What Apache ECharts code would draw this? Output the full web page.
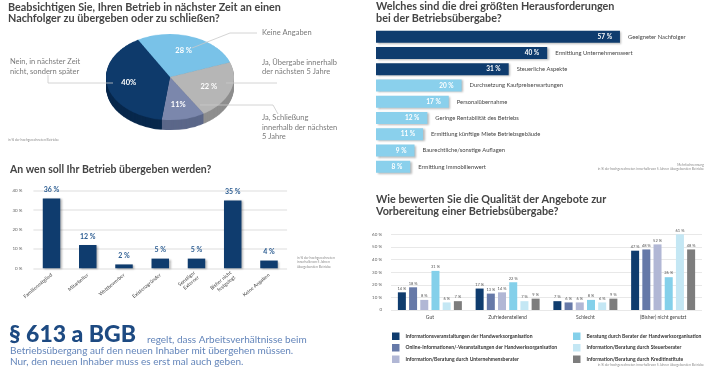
<!DOCTYPE html>
<html><head><meta charset="utf-8">
<script src="https://cdn.jsdelivr.net/npm/echarts@6/dist/echarts.min.js"></script>
<style>
html,body{margin:0;padding:0;background:#fff;}
#pie3d{position:absolute;left:100px;top:30px;width:140px;height:160px;transform:scaleY(0.672);transform-origin:0 0;}
#main{position:absolute;left:0;top:0;width:708px;height:378px;}
</style></head><body>
<div id="pie3d"></div><div id="main"></div>
<script>
// ---------- DATA ----------
const pieNames = ['Keine Angaben', 'Ja, Übergabe innerhalb\nder nächsten 5 Jahre', 'Ja, Schließung\ninnerhalb der nächsten\n5 Jahre', 'Nein, in nächster Zeit\nnicht, sondern später'];
const pieValues = [28, 22, 11, 40];
const pieLabels = ['28 %', '22 %', '11%', '40%'];

const challengeNames = ['Geeigneter Nachfolger', 'Ermittlung Unternehmenswert', 'Steuerliche Aspekte', 'Durchsetzung Kaufpreiserwartungen', 'Personalübernahme', 'Geringe Rentabilität des Betriebs', 'Ermittlung künftige Miete Betriebsgebäude', 'Baurechtliche/sonstige Auflagen', 'Ermittlung Immobilienwert'];
const challengeValues = [57, 40, 31, 20, 17, 12, 11, 9, 8];

const successorCats = ['Familienmitglied', 'Mitarbeiter', 'Wettbewerber', 'Existenzgründer', 'Sonstiger\nExterner', 'Bisher nicht\nfestgelegt', 'Keine Angaben'];
const successorValues = [36, 12, 2, 5, 5, 35, 4];
const successorTicks = [0, 10, 20, 30, 40];

const qualityCats = ['Gut', 'Zufriedenstellend', 'Schlecht', '(Bisher) nicht genutzt'];
const qualityNames = ['Informationsveranstaltungen der Handwerksorganisation', 'Online-Informationen/-Veranstaltungen der Handwerksorganisation', 'Information/Beratung durch Unternehmensberater', 'Beratung durch Berater der Handwerksorganisation', 'Information/Beratung durch Steuerberater', 'Information/Beratung durch Kreditinstitute'];
const qInfoVeranstaltungen = [14, 17, 7, 47];
const qOnline = [18, 13, 6, 48];
const qUnternehmensberater = [8, 14, 6, 52];
const qBeraterHWO = [31, 22, 8, 26];
const qSteuerberater = [6, 7, 6, 61];
const qKreditinstitute = [7, 9, 9, 48];
const qualityTicks = [0, 10, 20, 30, 40, 50, 60];

// ---------- STYLE ----------
const FONT = 'Lato, "Open Sans", sans-serif';
const NAVY = '#0f3c6e';
const LIGHT = '#8ad0ec';
const pieTop = ['#79c2e8', '#b6b6b6', '#7b87ac', '#0e3a6b'];
const pieSide = ['#5aa1c9', '#8e8e8e', '#5b6789', '#08284c'];
const qColors = ['#0f3c6e', '#6679a8', '#b1b7d5', '#84d0ea', '#c4e7f4', '#7d7d7d'];

// ---------- 3D PIE (scaled container) ----------
const pieChart = echarts.init(document.getElementById('pie3d'));
const pieSeries = [];
const DEPTH = 15;
function pieData(colors) {
  return pieValues.map((v, i) => ({ value: v, name: pieNames[i], itemStyle: { color: colors[i] } }));
}
for (let k = DEPTH; k >= 1; k--) {
  pieSeries.push({ type: 'pie', center: [70, 70 + k], radius: 64, startAngle: 120, clockwise: true, silent: true,
    avoidLabelOverlap: false, label: { show: false }, labelLine: { show: false }, data: pieData(pieSide) });
}
pieSeries.push({ type: 'pie', center: [70, 70], radius: 64, startAngle: 120, clockwise: true, silent: true,
  avoidLabelOverlap: false, label: { show: false }, labelLine: { show: false }, data: pieData(pieTop) });
pieChart.setOption({ animation: false, series: pieSeries });

// ---------- MAIN ----------
const PCX = 169.5, PCY = 77, PRX = 64, PRY = 43;
const pieTotal = pieValues.reduce((a, b) => a + b, 0);
function pieMid(i) {
  let s = 120;
  for (let j = 0; j < i; j++) s -= pieValues[j] / pieTotal * 360;
  return (s - pieValues[i] / pieTotal * 180) * Math.PI / 180;
}
const nameAnchor = [[262, 33], [262, 67], [262, 127.5], [10, 66.5]];

function txt(x, y, text, size, color, weight, align, va, lh) {
  return { type: 'text', x: x, y: y, silent: true, z: 10,
    style: { text: text, fontSize: size, fontFamily: FONT, fontWeight: weight || 'normal', fill: color,
      align: align || 'left', verticalAlign: va || 'middle', lineHeight: lh } };
}
function line(points) {
  return { type: 'polyline', silent: true, shape: { points: points }, style: { stroke: '#c9c9c9', lineWidth: 0.8, fill: null } };
}
const TITLE = '#444444';
const TS = 10.8;
const graphics = [
  txt(8, 7.5, 'Beabsichtigen Sie, Ihren Betrieb in nächster Zeit an einen', TS, TITLE, 'bold'),
  txt(8, 18.8, 'Nachfolger zu übergeben oder zu schließen?', TS, TITLE, 'bold'),
  txt(376, 7, 'Welches sind die drei größten Herausforderungen', TS, TITLE, 'bold'),
  txt(376, 18.5, 'bei der Betriebsübergabe?', TS, TITLE, 'bold'),
  txt(10, 170, 'An wen soll Ihr Betrieb übergeben werden?', 10.5, TITLE, 'bold'),
  txt(376, 200, 'Wie bewerten Sie die Qualität der Angebote zur', TS, TITLE, 'bold'),
  txt(376, 212, 'Vorbereitung einer Betriebsübergabe?', TS, TITLE, 'bold'),
  txt(8, 140, 'in % der hochgerechneten Betriebe', 3.3, '#888'),
  txt(704, 165, 'Mehrfachnennung', 3.3, '#888', 'normal', 'right'),
  txt(704, 169, 'in % der hochgerechneten innerhalb von 5 Jahren übergebenden Betriebe', 3.3, '#888', 'normal', 'right'),
  txt(297, 256, 'in % der hochgerechneten\ninnerhalb von 5 Jahren\nübergebenden Betriebe', 3.3, '#888', 'normal', 'left', 'top', 4.2),
  txt(704, 365, 'in % der hochgerechneten innerhalb von 5 Jahren übergebenden Betriebe', 3.3, '#888', 'normal', 'right'),
  txt(9, 335, '§ 613 a BGB', 23, '#1d4a82', 900),
  txt(147, 340, 'regelt, dass Arbeitsverhältnisse beim', 10, '#6385ba'),
  txt(10, 351, 'Betriebsübergang auf den neuen Inhaber mit übergehen müssen.', 10, '#6385ba'),
  txt(10, 362, 'Nur, den neuen Inhaber muss es erst mal auch geben.', 10, '#6385ba'),
  line([[192, 48], [230, 33], [257, 33]]),
  line([[226, 83], [277, 83]]),
  line([[200, 105], [273, 105], [278, 114]]),
  line([[113, 83], [48, 83], [48, 75]])
];

const shadow = { shadowColor: 'rgba(0,0,0,0.28)', shadowBlur: 2, shadowOffsetX: 1.5, shadowOffsetY: 1 };
const qData = [qInfoVeranstaltungen, qOnline, qUnternehmensberater, qBeraterHWO, qSteuerberater, qKreditinstitute];

const option = {
  animation: false,
  textStyle: { fontFamily: FONT },
  graphic: graphics,
  legend: [
    { data: qualityNames.slice(0, 3), orient: 'vertical', left: 392, top: 332.5, itemWidth: 7.5, itemHeight: 7.5, itemGap: 4,
      icon: 'rect', padding: 0, selectedMode: false, textStyle: { fontSize: 5, color: '#333', fontWeight: 'bold', padding: [0, 0, 0, 1] } },
    { data: qualityNames.slice(3), orient: 'vertical', left: 573, top: 332.5, itemWidth: 7.5, itemHeight: 7.5, itemGap: 4,
      icon: 'rect', padding: 0, selectedMode: false, textStyle: { fontSize: 5, color: '#333', fontWeight: 'bold', padding: [0, 0, 0, 1] } }
  ],
  grid: [
    { left: 376, top: 28.6, width: 299.6, height: 146.3, outerBoundsMode: 'none' },
    { left: 33.4, top: 190.7, width: 253.7, height: 77.6, outerBoundsMode: 'none' },
    { left: 391, top: 234.3, width: 311, height: 75.7, outerBoundsMode: 'none' }
  ],
  xAxis: [
    { gridIndex: 0, type: 'value', min: 0, max: 70, show: false },
    { gridIndex: 1, type: 'category', data: successorCats, axisLine: { show: false }, axisTick: { show: false },
      axisLabel: { interval: 0, rotate: 40, fontSize: 5, color: '#444', margin: 6, lineHeight: 6 } },
    { gridIndex: 2, type: 'category', data: qualityCats, axisLine: { show: false }, axisTick: { show: false },
      axisLabel: { interval: 0, fontSize: 5, color: '#444', margin: 5 } }
  ],
  yAxis: [
    { gridIndex: 0, type: 'category', data: challengeNames, inverse: true, show: false },
    { gridIndex: 1, type: 'value', min: successorTicks[0], max: successorTicks[successorTicks.length - 1], interval: successorTicks[1] - successorTicks[0],
      axisLine: { show: false }, axisTick: { show: false },
      axisLabel: { formatter: '{value} %', fontSize: 4.5, color: '#666', margin: 11 },
      splitLine: { lineStyle: { color: '#e8e8e8', width: 1.5 } } },
    { gridIndex: 2, type: 'value', min: qualityTicks[0], max: qualityTicks[qualityTicks.length - 1], interval: qualityTicks[1] - qualityTicks[0],
      axisLine: { show: false }, axisTick: { show: false },
      axisLabel: { formatter: v => v === 0 ? '0' : v + ' %', fontSize: 4.5, color: '#666', margin: 9 },
      splitLine: { lineStyle: { color: '#e8e8e8', width: 1 } } }
  ],
  series: [
    { type: 'pie', center: [PCX, PCY], radius: PRX, startAngle: 120, clockwise: true, silent: true, avoidLabelOverlap: false,
      itemStyle: { color: 'transparent' }, labelLine: { show: false },
      data: pieValues.map((v, i) => ({ value: v, name: pieNames[i] })),
      label: { show: true, position: 'inside', formatter: p => pieLabels[p.dataIndex], color: '#fff', fontWeight: 'bold', fontSize: 7.5 },
      labelLayout: p => {
        const a = pieMid(p.dataIndex);
        return { x: PCX + 0.65 * PRX * Math.cos(a), y: PCY - 0.65 * PRY * Math.sin(a), align: 'center', verticalAlign: 'middle' };
      } },
    { type: 'pie', center: [PCX, PCY], radius: PRX, startAngle: 120, clockwise: true, silent: true, avoidLabelOverlap: false,
      itemStyle: { color: 'transparent' }, labelLine: { show: false },
      data: pieValues.map((v, i) => ({ value: v, name: pieNames[i] })),
      label: { show: true, position: 'outside', formatter: '{b}', color: '#7a7a7a', fontSize: 7.5, lineHeight: 9.5 },
      labelLayout: p => ({ x: nameAnchor[p.dataIndex][0], y: nameAnchor[p.dataIndex][1], align: 'left', verticalAlign: 'middle' }) },
    { type: 'bar', xAxisIndex: 0, yAxisIndex: 0, barWidth: 12,
      data: challengeValues.map((v, i) => ({ value: v, itemStyle: { color: i < 3 ? NAVY : LIGHT } })),
      itemStyle: shadow,
      label: { show: true, position: 'insideRight', distance: 8, formatter: '{c} %', color: '#fff', fontWeight: 'bold', fontSize: 6.5 } },
    { type: 'bar', xAxisIndex: 0, yAxisIndex: 0, barWidth: 12, barGap: '-100%', silent: true,
      data: challengeValues, itemStyle: { color: 'transparent' },
      label: { show: true, position: 'right', distance: 8, formatter: p => challengeNames[p.dataIndex], color: '#444', fontSize: 5.8 } },
    { type: 'bar', xAxisIndex: 1, yAxisIndex: 1, barWidth: 17.5, data: successorValues,
      itemStyle: Object.assign({ color: NAVY }, shadow),
      label: { show: true, position: 'top', distance: 5, formatter: '{c} %', color: '#2c5d92', fontWeight: 'bold', fontSize: 7 } }
  ].concat(qData.map((d, i) => ({
    type: 'bar', name: qualityNames[i], xAxisIndex: 2, yAxisIndex: 2, barWidth: 8, barGap: '40%', data: d,
    itemStyle: { color: qColors[i] },
    label: { show: true, position: 'top', distance: 2, formatter: '{c} %', color: '#555', fontSize: 4 }
  })))
};
const chart = echarts.init(document.getElementById('main'));
chart.setOption(option);
</script></body></html>
